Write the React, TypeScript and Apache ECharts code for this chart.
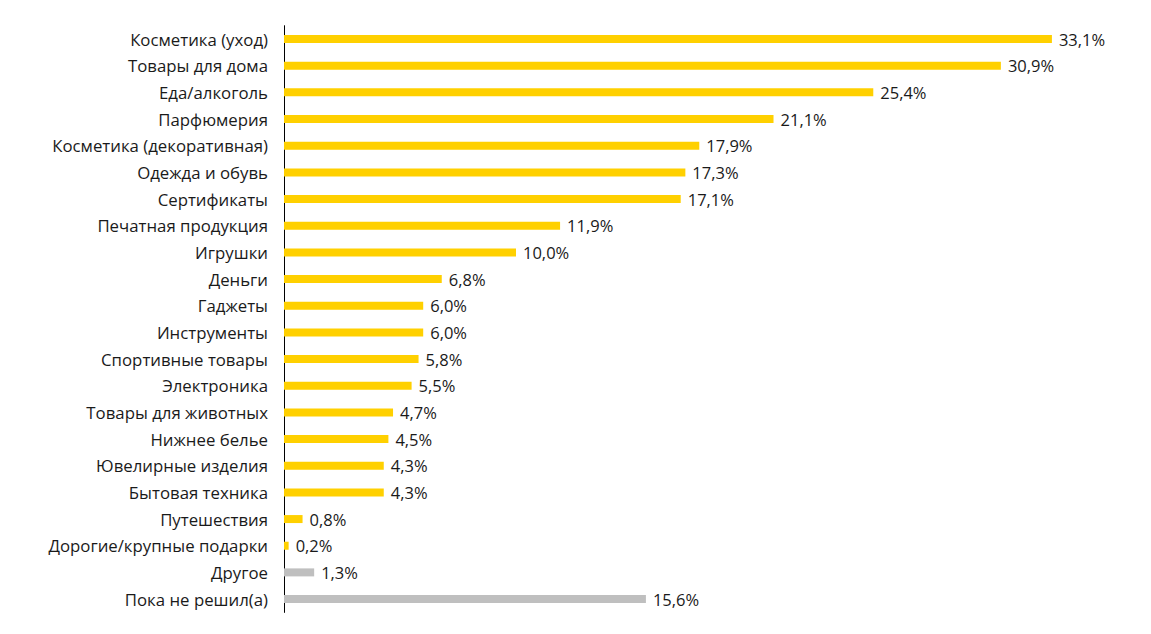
import React, { useEffect, useRef } from "react";
import * as echarts from "echarts";

const categories = [
  "Косметика (уход)",
  "Товары для дома",
  "Еда/алкоголь",
  "Парфюмерия",
  "Косметика (декоративная)",
  "Одежда и обувь",
  "Сертификаты",
  "Печатная продукция",
  "Игрушки",
  "Деньги",
  "Гаджеты",
  "Инструменты",
  "Спортивные товары",
  "Электроника",
  "Товары для животных",
  "Нижнее белье",
  "Ювелирные изделия",
  "Бытовая техника",
  "Путешествия",
  "Дорогие/крупные подарки",
  "Другое",
  "Пока не решил(а)",
];

const values = [33.1, 30.9, 25.4, 21.1, 17.9, 17.3, 17.1, 11.9, 10.0, 6.8, 6.0, 6.0, 5.8, 5.5, 4.7, 4.5, 4.3, 4.3, 0.8, 0.2, 1.3, 15.6];

const greyCategories = ["Другое", "Пока не решил(а)"];

const YELLOW = "#FFD000";
const GREY = "#BFBFBF";

export default function App() {
  const ref = useRef<HTMLDivElement>(null);
  useEffect(() => {
    if (!ref.current) return;
    const chart = echarts.init(ref.current, null, { renderer: "svg" });
    chart.setOption({
      animation: false,
      backgroundColor: "#ffffff",
      grid: { left: 284, top: 25.7, height: 586.7, width: 812, containLabel: false },
      xAxis: {
        type: "value",
        min: 0,
        max: 35,
        show: false,
      },
      yAxis: {
        type: "category",
        inverse: true,
        data: categories,
        axisLine: { show: true, lineStyle: { color: "#000000", width: 1 } },
        axisTick: { show: false },
        axisLabel: {
          margin: 16,
          fontSize: 16.8,
          color: "#1a1a1a",
          fontFamily: "Open Sans",
        },
        splitLine: { show: false },
      },
      series: [
        {
          type: "bar",
          barWidth: 8,
          data: values.map((v, i) => ({
            value: v,
            itemStyle: { color: greyCategories.includes(categories[i]) ? GREY : YELLOW },
          })),
          label: {
            show: true,
            position: "right",
            distance: 7,
            fontSize: 16.5,
            color: "#1a1a1a",
            fontFamily: "Open Sans",
            formatter: (p: any) => p.value.toFixed(1).replace(".", ",") + "%",
          },
        },
      ],
    });
    return () => chart.dispose();
  }, []);
  return <div ref={ref} style={{ position: "fixed", left: 0, top: 0, width: 1151, height: 634 }} />;
}
